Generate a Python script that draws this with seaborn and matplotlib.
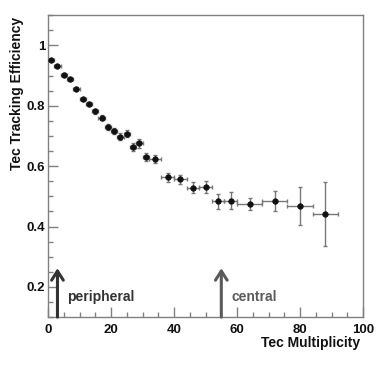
import numpy as np
import pandas as pd
import matplotlib
matplotlib.use('Agg')
import matplotlib.pyplot as plt
from matplotlib.ticker import MultipleLocator, FuncFormatter
import seaborn as sns

# データ
multiplicity = [1, 3, 5, 7, 9, 11, 13, 15, 17, 19, 21, 23, 25, 27, 29, 31,
                34, 38, 42, 46, 50, 54, 58, 64, 72, 80, 88]
efficiency = [0.951, 0.932, 0.902, 0.887, 0.857, 0.821, 0.805, 0.782, 0.761,
              0.729, 0.716, 0.698, 0.707, 0.663, 0.675, 0.631, 0.624, 0.563,
              0.556, 0.529, 0.531, 0.484, 0.485, 0.475, 0.485, 0.469, 0.441]
mult_err = [1] * 16 + [2] * 7 + [4] * 4
eff_err = [0.004, 0.004, 0.005, 0.005, 0.006, 0.006, 0.007, 0.008, 0.008,
           0.009, 0.010, 0.011, 0.012, 0.013, 0.014, 0.014, 0.013, 0.015,
           0.016, 0.017, 0.019, 0.025, 0.028, 0.020, 0.034, 0.063, 0.107]

arrow_x = [3, 55]
arrow_labels = ['peripheral', 'central']
arrow_colors = ['#333333', '#5a5a5a']

df = pd.DataFrame({'mult': multiplicity, 'eff': efficiency})

sns.set_theme(style='white')
plt.rcParams['font.family'] = ['Liberation Sans', 'DejaVu Sans']

fig = plt.figure(figsize=(3.81, 3.70), dpi=100)
ax = fig.add_axes([0.126, 0.143, 0.827, 0.816])

# 誤差棒
ax.errorbar(multiplicity, efficiency, xerr=mult_err, yerr=eff_err,
            fmt='none', ecolor='#777777', elinewidth=1.0, capsize=1.5,
            capthick=1.0, zorder=2)
sns.scatterplot(data=df, x='mult', y='eff', ax=ax, color='#111111',
                s=16, marker='o', edgecolor='#111111', linewidth=0.5,
                zorder=3, legend=False)

ax.set_xlim(0, 100)
ax.set_ylim(0.1, 1.1)

# 矢印とラベル
for xv, lab, col in zip(arrow_x, arrow_labels, arrow_colors):
    ax.annotate('', xy=(xv, 0.262), xytext=(xv, 0.1),
                arrowprops=dict(arrowstyle='->,head_length=0.55,head_width=0.35',
                                color=col, lw=2.2, shrinkA=0, shrinkB=0))
    ax.text(xv + 3.2, 0.165, lab, color=col, fontsize=10, fontweight='bold',
            ha='left', va='center')

# 軸の体裁（ROOT風）
for side in ['left', 'right', 'top', 'bottom']:
    ax.spines[side].set_color('#808080')
    ax.spines[side].set_linewidth(1.0)

ax.xaxis.set_major_locator(MultipleLocator(20))
ax.xaxis.set_minor_locator(MultipleLocator(5))
ax.yaxis.set_major_locator(MultipleLocator(0.2))
ax.yaxis.set_minor_locator(MultipleLocator(0.05))
ax.yaxis.set_major_formatter(FuncFormatter(lambda v, p: f'{v:g}'))

ax.tick_params(which='both', direction='in', color='#808080', width=1.0,
               bottom=True, left=True, top=False, right=False)
ax.tick_params(which='major', length=7)
ax.tick_params(which='minor', length=3.5)
ax.tick_params(axis='x', which='major', pad=5, labelsize=9.5)
ax.tick_params(axis='y', which='major', pad=2, labelsize=9.5)
for lab in ax.get_xticklabels() + ax.get_yticklabels():
    lab.set_fontweight('bold')
    lab.set_color('#111111')

ax.set_xlabel('Tec Multiplicity', fontsize=10, fontweight='bold',
              color='#111111', ha='right', va='top')
ax.set_ylabel('Tec Tracking Efficiency', fontsize=10, fontweight='bold',
              color='#111111', ha='right', va='center')
ax.xaxis.set_label_coords(0.99, -0.062)
ax.yaxis.set_label_coords(-0.097, 0.993)

fig.savefig('out.png', dpi=100)
plt.close(fig)
